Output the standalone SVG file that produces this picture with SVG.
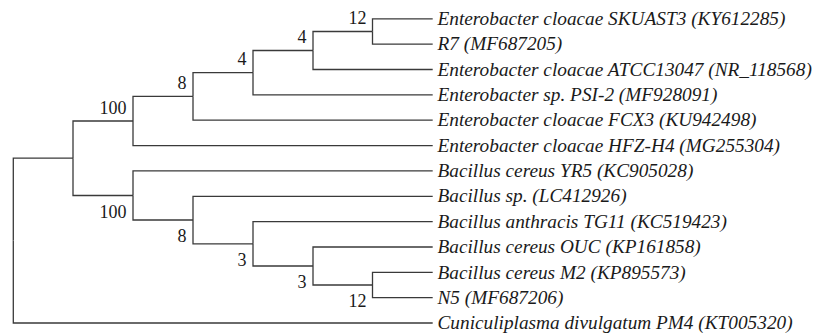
<svg xmlns="http://www.w3.org/2000/svg" width="814" height="334" viewBox="0 0 814 334">
<style>
.br{fill:none;stroke:#3a3a3a;stroke-width:1.3}
.leaf{font-family:"Liberation Serif","Times New Roman",serif;font-style:italic;font-size:19.3px;fill:#1a1a1a}
.bs{font-family:"Liberation Serif","Times New Roman",serif;font-size:18px;fill:#1a1a1a;text-anchor:end}
</style>
<rect width="814" height="334" fill="#fff"/>
<g id="connectors" class="br">
<path d="M13.3,240.6 V158.2 H73"/>
<path d="M13.3,240.6 V323 H432.7"/>
<path d="M73,158.2 V121 H133"/>
<path d="M73,158.2 V195.5 H133"/>
<path d="M133,121 V96.4 H193"/>
<path d="M133,121 V145.6 H432.7"/>
<path d="M193,96.4 V72.7 H253"/>
<path d="M193,96.4 V120.2 H432.7"/>
<path d="M253,72.7 V50.5 H313"/>
<path d="M253,72.7 V94.9 H432.7"/>
<path d="M313,50.5 V31.5 H372.5"/>
<path d="M313,50.5 V69.5 H432.7"/>
<path d="M372.5,31.5 V18.8 H432.7"/>
<path d="M372.5,31.5 V44.2 H432.7"/>
<path d="M133,195.5 V170.9 H432.7"/>
<path d="M133,195.5 V220 H193"/>
<path d="M193,220 V196.3 H432.7"/>
<path d="M193,220 V243.8 H253"/>
<path d="M253,243.8 V221.6 H432.7"/>
<path d="M253,243.8 V266 H313"/>
<path d="M313,266 V247 H432.7"/>
<path d="M313,266 V285 H372.5"/>
<path d="M372.5,285 V272.3 H432.7"/>
<path d="M372.5,285 V297.7 H432.7"/>
</g>
<g id="leaf-skuast3"><text class="leaf" x="437.5" y="25">Enterobacter cloacae SKUAST3 (KY612285)</text></g>
<g id="leaf-r7"><text class="leaf" x="437.5" y="50.3">R7 (MF687205)</text></g>
<g id="leaf-atcc13047"><text class="leaf" x="437.5" y="75.7">Enterobacter cloacae ATCC13047 (NR_118568)</text></g>
<g id="leaf-psi2"><text class="leaf" x="437.5" y="101">Enterobacter sp. PSI-2 (MF928091)</text></g>
<g id="leaf-fcx3"><text class="leaf" x="437.5" y="126.4">Enterobacter cloacae FCX3 (KU942498)</text></g>
<g id="leaf-hfzh4"><text class="leaf" x="437.5" y="151.7">Enterobacter cloacae HFZ-H4 (MG255304)</text></g>
<g id="leaf-yr5"><text class="leaf" x="437.5" y="177.1">Bacillus cereus YR5 (KC905028)</text></g>
<g id="leaf-bsp"><text class="leaf" x="437.5" y="202.4">Bacillus sp. (LC412926)</text></g>
<g id="leaf-tg11"><text class="leaf" x="437.5" y="227.8">Bacillus anthracis TG11 (KC519423)</text></g>
<g id="leaf-ouc"><text class="leaf" x="437.5" y="253.1">Bacillus cereus OUC (KP161858)</text></g>
<g id="leaf-m2"><text class="leaf" x="437.5" y="278.5">Bacillus cereus M2 (KP895573)</text></g>
<g id="leaf-n5"><text class="leaf" x="437.5" y="303.8">N5 (MF687206)</text></g>
<g id="leaf-pm4"><text class="leaf" x="437.5" y="329.2">Cuniculiplasma divulgatum PM4 (KT005320)</text></g>
<g id="node-a"><text class="bs" x="366.5" y="24.2">12</text></g>
<g id="node-b"><text class="bs" x="306.5" y="43.2">4</text></g>
<g id="node-c"><text class="bs" x="246.5" y="65.4">4</text></g>
<g id="node-d"><text class="bs" x="186.5" y="89.1">8</text></g>
<g id="node-e"><text class="bs" x="126.5" y="113.7">100</text></g>
<g id="node-g"><text class="bs" x="126.5" y="217.9">100</text></g>
<g id="node-h"><text class="bs" x="186.5" y="242.4">8</text></g>
<g id="node-i"><text class="bs" x="246.5" y="266.2">3</text></g>
<g id="node-j"><text class="bs" x="306.5" y="288.4">3</text></g>
<g id="node-k"><text class="bs" x="366.5" y="307.4">12</text></g>
</svg>
